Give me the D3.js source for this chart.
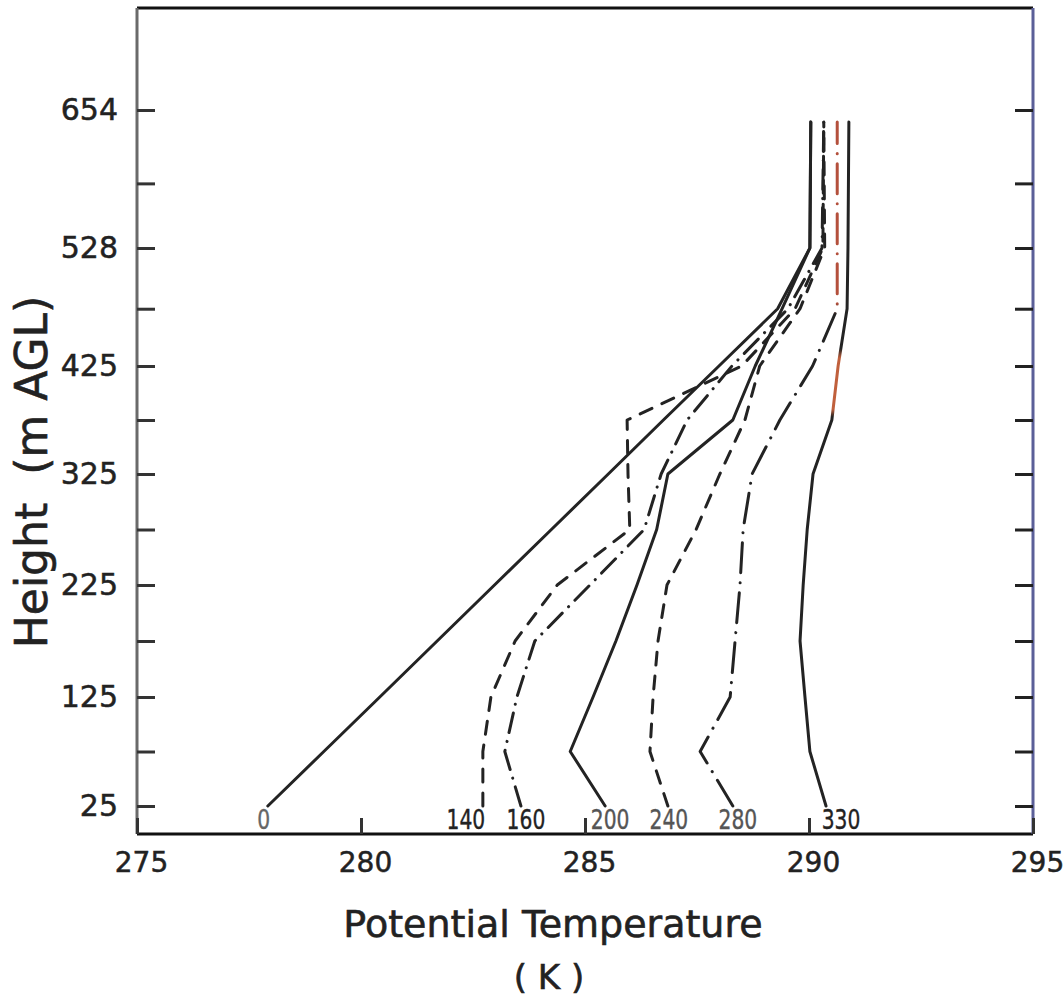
<!DOCTYPE html>
<html><head><meta charset="utf-8">
<script src="https://cdn.jsdelivr.net/npm/d3@7"></script>
<style>body{margin:0;background:#fff}</style>
</head><body>
<svg id="chart" width="1063" height="996"></svg>
<script>
// ---------------- data ----------------
const levels = [25, 75, 125, 175, 225, 275, 325, 375, 425, 475, 528, 643];   // m AGL
const seriesNames = ["0", "140", "160", "200", "240", "280", "330"];
const theta0   = [277.92, 279.17, 280.42, 281.70, 282.98, 284.25, 285.52, 286.75, 287.99, 289.30, 290.02, 290.04];
const theta140 = [282.72, 282.72, 282.90, 283.44, 284.38, 286.00, 285.96, 285.94, 288.50, 289.69, 290.31, 290.33];
const theta160 = [283.57, 283.21, 283.48, 283.88, 285.11, 286.32, 286.70, 287.28, 288.28, 289.53, 290.29, 290.33];
const theta200 = [285.45, 284.67, 285.18, 285.69, 286.16, 286.60, 286.85, 288.30, 288.80, 289.40, 290.02, 290.04];
const theta240 = [286.85, 286.45, 286.52, 286.63, 286.83, 287.48, 288.01, 288.57, 288.90, 289.80, 290.35, 290.33];
const theta280 = [288.30, 287.57, 288.24, 288.35, 288.46, 288.53, 288.73, 289.35, 290.08, 290.63, 290.63, 290.63];
const theta330 = [290.38, 290.02, 289.91, 289.80, 289.87, 289.96, 290.09, 290.51, 290.65, 290.85, 290.87, 290.89];
const xTicks = [275, 280, 285, 290, 295];
const yTicks = [25, 75, 125, 175, 225, 275, 325, 375, 425, 475, 528, 587, 654];
const yTickLabels = [25, 125, 225, 325, 425, 528, 654];

// ---------------- styles / layout ----------------
const allSeries = [theta0, theta140, theta160, theta200, theta240, theta280, theta330];
const dashes = [null, "13,11", "20,9,0.1,9", null, "13,11", "30,10,0.1,10", null];
const labelShift = [-4, -17, 5, 5, 1, 5, 15];
const labelColor = ["#666", "#222", "#222", "#555", "#555", "#555", "#222"];
const ink = "#232323";

const svg = d3.select("#chart");
const x = d3.scaleLinear().domain([275, 295]).range([137, 1033]);
const y = d3.scaleLinear()
  .domain([0, 25, 125, 225, 325, 425, 528, 654, 747])
  .range([834, 806, 697, 585, 474, 366, 248, 110, 8]);

// gradients for scan colouring on two curves
const defs = svg.append("defs");
function grad(id, stops) {
  const g = defs.append("linearGradient").attr("id", id)
    .attr("gradientUnits", "userSpaceOnUse")
    .attr("x1", 0).attr("x2", 0).attr("y1", y(0)).attr("y2", y(747));
  stops.forEach(s => g.append("stop").attr("offset", (y(0) - y(s[0])) / (y(0) - y(747))).attr("stop-color", s[1]));
}
grad("g280", [[0, ink], [470, ink], [480, "#b4503c"], [747, "#b4503c"]]);
grad("g330", [[0, ink], [378, ink], [385, "#c0603c"], [432, "#c0603c"], [440, ink], [747, ink]]);
const strokes = [ink, ink, ink, ink, ink, "url(#g280)", "url(#g330)"];

// frame
const fr = svg.append("g");
fr.append("line").attr("x1", x(275)).attr("x2", x(295)).attr("y1", y(747)).attr("y2", y(747)).attr("stroke", "#111").attr("stroke-width", 3);
fr.append("line").attr("x1", x(275)).attr("x2", x(295)).attr("y1", y(0)).attr("y2", y(0)).attr("stroke", "#111").attr("stroke-width", 3);
fr.append("line").attr("x1", x(275)).attr("x2", x(275)).attr("y1", y(747)).attr("y2", y(0)).attr("stroke", "#6a6a6a").attr("stroke-width", 3);
fr.append("line").attr("x1", x(295)).attr("x2", x(295)).attr("y1", y(747)).attr("y2", y(0)).attr("stroke", "#5b5f98").attr("stroke-width", 3);

// axes
const yAxis = d3.axisLeft(y).tickValues(yTicks).tickSize(-18).tickPadding(19).tickSizeOuter(0)
  .tickFormat(d => yTickLabels.includes(d) ? d : "");
const ga = svg.append("g").attr("transform", `translate(${x(275)},0)`).call(yAxis);
ga.select(".domain").remove();
ga.selectAll(".tick line").attr("stroke", "#333").attr("stroke-width", 3);
ga.selectAll(".tick text").attr("font-family", "DejaVu Sans").attr("font-size", 30).attr("fill", "#222")
  .attr("stroke", "#222").attr("stroke-width", 0.5);

const yAxisR = d3.axisRight(y).tickValues(yTicks).tickSize(-18).tickSizeOuter(0).tickFormat("");
const gr = svg.append("g").attr("transform", `translate(${x(295)},0)`).call(yAxisR);
gr.select(".domain").remove();
gr.selectAll(".tick line").attr("stroke", "#222").attr("stroke-width", 3);

const xAxis = d3.axisBottom(x).tickValues(xTicks).tickSize(-16).tickPadding(18).tickSizeOuter(0)
  .tickFormat(d3.format("d"));
const gx = svg.append("g").attr("transform", `translate(0,${y(0)})`).call(xAxis);
gx.select(".domain").remove();
gx.selectAll(".tick line").attr("stroke", "#333").attr("stroke-width", 3);
gx.selectAll(".tick text").attr("font-family", "DejaVu Sans").attr("font-size", 28).attr("fill", "#222").attr("dx", 4)
  .attr("stroke", "#222").attr("stroke-width", 0.5);

// curves
const line = d3.line().x(d => x(d[0])).y(d => y(d[1]));
allSeries.forEach((s, i) => {
  const pts = s.map((v, j) => [v, levels[j]]);
  svg.append("path").attr("d", line(pts))
    .attr("fill", "none").attr("stroke", strokes[i]).attr("stroke-width", 3)
    .attr("stroke-linecap", "round").attr("stroke-linejoin", "round")
    .attr("stroke-dasharray", dashes[i]);
});

// curve labels (minutes)
allSeries.forEach((s, i) => {
  svg.append("g").attr("transform", `translate(${x(s[0]) + labelShift[i]},829) scale(0.78,1)`)
    .append("text").text(seriesNames[i])
    .attr("text-anchor", "middle").attr("font-family", "DejaVu Sans").attr("font-size", 26)
    .attr("fill", labelColor[i]).attr("stroke", labelColor[i]).attr("stroke-width", 0.4);
});

// titles
svg.append("text").attr("transform", "translate(47,472) rotate(-90)")
  .attr("text-anchor", "middle").attr("font-family", "DejaVu Sans").attr("font-size", 44).attr("fill", "#222")
  .attr("stroke", "#222").attr("stroke-width", 0.6)
  .attr("xml:space", "preserve").text("Height  (m AGL)");
svg.append("text").attr("x", 553).attr("y", 937)
  .attr("text-anchor", "middle").attr("font-family", "DejaVu Sans").attr("font-size", 38).attr("fill", "#222")
  .attr("stroke", "#222").attr("stroke-width", 0.6)
  .text("Potential Temperature");
svg.append("text").attr("x", 549).attr("y", 989)
  .attr("text-anchor", "middle").attr("font-family", "DejaVu Sans").attr("font-size", 34).attr("fill", "#222")
  .attr("stroke", "#222").attr("stroke-width", 0.6)
  .attr("xml:space", "preserve").text("( K )");
</script>
</body></html>
